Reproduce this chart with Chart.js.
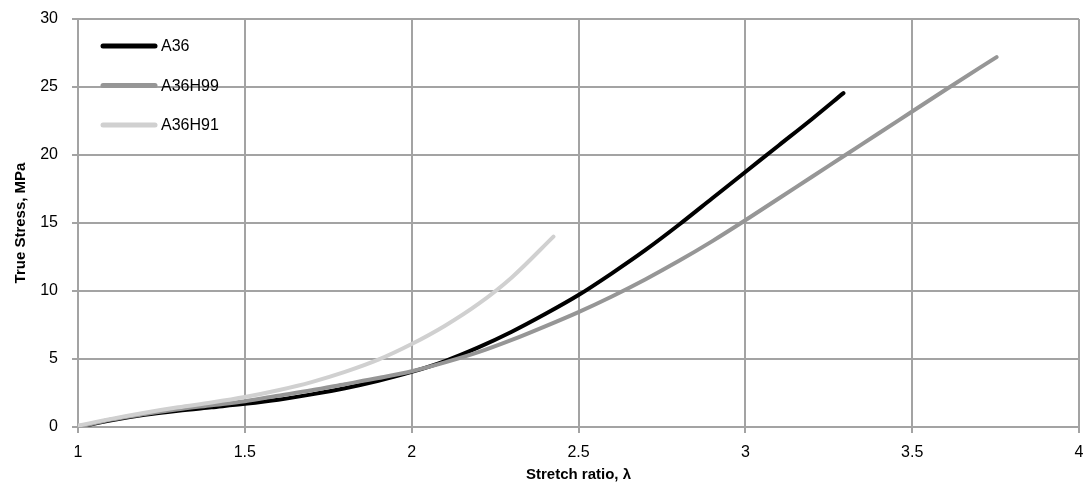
<!DOCTYPE html>
<html>
<head>
<meta charset="utf-8">
<script src="https://cdn.jsdelivr.net/npm/chart.js@4/dist/chart.umd.min.js"></script>
<style>
  html, body { margin: 0; padding: 0; background: #fff; }
  #wrap { width: 1088px; height: 490px; position: relative; }
</style>
</head>
<body>
<div id="wrap"><canvas id="chart"></canvas></div>
<script>
// stretch ratio (x) and true stress (y)
const a36X = [1.0, 1.1, 1.2, 1.3, 1.4, 1.5, 1.6, 1.7, 1.8, 1.9, 2.0, 2.1, 2.2, 2.3, 2.4, 2.5, 2.6, 2.7, 2.8, 2.9, 3.0, 3.1, 3.2, 3.294];
const a36Y = [0, 0.5, 0.9, 1.2, 1.45, 1.7, 2.0, 2.4, 2.85, 3.4, 4.05, 4.85, 5.85, 7.0, 8.3, 9.7, 11.3, 13.0, 14.85, 16.8, 18.75, 20.7, 22.65, 24.55];

const h99X = [1.0, 1.1, 1.2, 1.3, 1.4, 1.5, 1.6, 1.7, 1.8, 1.9, 2.0, 2.1, 2.2, 2.3, 2.4, 2.5, 2.6, 2.7, 2.8, 2.9, 3.0, 3.1, 3.2, 3.3, 3.4, 3.5, 3.6, 3.753];
const h99Y = [0, 0.55, 0.95, 1.3, 1.6, 1.9, 2.3, 2.7, 3.15, 3.6, 4.1, 4.75, 5.5, 6.4, 7.4, 8.45, 9.6, 10.85, 12.2, 13.65, 15.2, 16.8, 18.4, 20.0, 21.6, 23.2, 24.8, 27.2];

const h91X = [1.0, 1.1, 1.2, 1.3, 1.4, 1.5, 1.6, 1.7, 1.8, 1.9, 2.0, 2.1, 2.2, 2.3, 2.425];
const h91Y = [0.1, 0.6, 1.05, 1.45, 1.8, 2.2, 2.7, 3.3, 4.05, 4.95, 6.1, 7.45, 9.05, 11.0, 14.0];

const seriesNames = ["A36", "A36H99", "A36H91"];
const seriesColors = ["#000000", "#969696", "#d0d0d0"];

const xTicks = [1, 1.5, 2, 2.5, 3, 3.5, 4];
const yTicks = [0, 5, 10, 15, 20, 25, 30];

const toPoints = (xs, ys) => xs.map((x, i) => ({ x: x, y: ys[i] }));

const FONT = "'Liberation Sans', Arial, sans-serif";
const GRID = "#a3a3a3";

// legend drawn inside the plot, top-left
const insideLegend = {
    id: "insideLegend",
    afterDraw(chart) {
        const ctx = chart.ctx;
        const area = chart.chartArea;
        ctx.save();
        ctx.font = "16px " + FONT;
        ctx.textBaseline = "middle";
        seriesNames.forEach((name, i) => {
            const y = area.top + 27 + i * 39.5;
            ctx.strokeStyle = seriesColors[i];
            ctx.lineWidth = 5;
            ctx.lineCap = "round";
            ctx.beginPath();
            ctx.moveTo(area.left + 25, y);
            ctx.lineTo(area.left + 77, y);
            ctx.stroke();
            ctx.fillStyle = "#000";
            ctx.fillText(name, area.left + 83, y + 1);
        });
        ctx.restore();
    }
};

const datasets = [
    { label: seriesNames[0], data: toPoints(a36X, a36Y), order: 3 },
    { label: seriesNames[1], data: toPoints(h99X, h99Y), order: 2 },
    { label: seriesNames[2], data: toPoints(h91X, h91Y), order: 1 }
].map((d, i) => Object.assign(d, {
    borderColor: seriesColors[i],
    backgroundColor: seriesColors[i],
    borderWidth: 4,
    borderCapStyle: "round",
    borderJoinStyle: "round",
    pointRadius: 0,
    showLine: true,
    fill: false,
    cubicInterpolationMode: "monotone"
}));

new Chart(document.getElementById("chart").getContext("2d"), {
    type: "scatter",
    data: { datasets: datasets },
    plugins: [insideLegend],
    options: {
        responsive: true,
        maintainAspectRatio: false,
        animation: false,
        devicePixelRatio: 1,
        layout: { padding: { top: 19, right: 9, bottom: 0, left: 0 } },
        plugins: { legend: { display: false }, tooltip: { enabled: false } },
        scales: {
            x: {
                type: "linear",
                min: 1,
                max: 4,
                afterBuildTicks: (axis) => { axis.ticks = xTicks.map(v => ({ value: v })); },
                afterFit: (axis) => {
                    axis.height = 63;
                    axis.paddingLeft = 0;
                    axis.paddingRight = 0;
                },
                grid: { color: GRID, lineWidth: 2, tickLength: 6, drawTicks: true },
                border: { color: GRID, width: 2 },
                ticks: {
                    color: "#000",
                    font: { family: FONT, size: 16 },
                    padding: 10,
                    maxRotation: 0,
                    callback: (v) => String(v)
                },
                title: {
                    display: true,
                    text: "Stretch ratio, λ",
                    color: "#000",
                    font: { family: FONT, size: 15, weight: "bold" },
                    padding: { top: 2, bottom: 6 }
                }
            },
            y: {
                type: "linear",
                min: 0,
                max: 30,
                afterBuildTicks: (axis) => { axis.ticks = yTicks.map(v => ({ value: v })); },
                afterFit: (axis) => {
                    axis.width = 78;
                    axis.paddingTop = 0;
                    axis.paddingBottom = 0;
                },
                grid: { color: GRID, lineWidth: 2, tickLength: 6, drawTicks: true },
                border: { color: GRID, width: 2 },
                ticks: {
                    color: "#000",
                    font: { family: FONT, size: 16 },
                    padding: 14,
                    callback: (v) => String(v)
                },
                title: {
                    display: true,
                    text: "True Stress, MPa",
                    color: "#000",
                    font: { family: FONT, size: 15, weight: "bold" },
                    padding: { top: 12, bottom: 4 }
                }
            }
        }
    }
});
</script>
</body>
</html>
